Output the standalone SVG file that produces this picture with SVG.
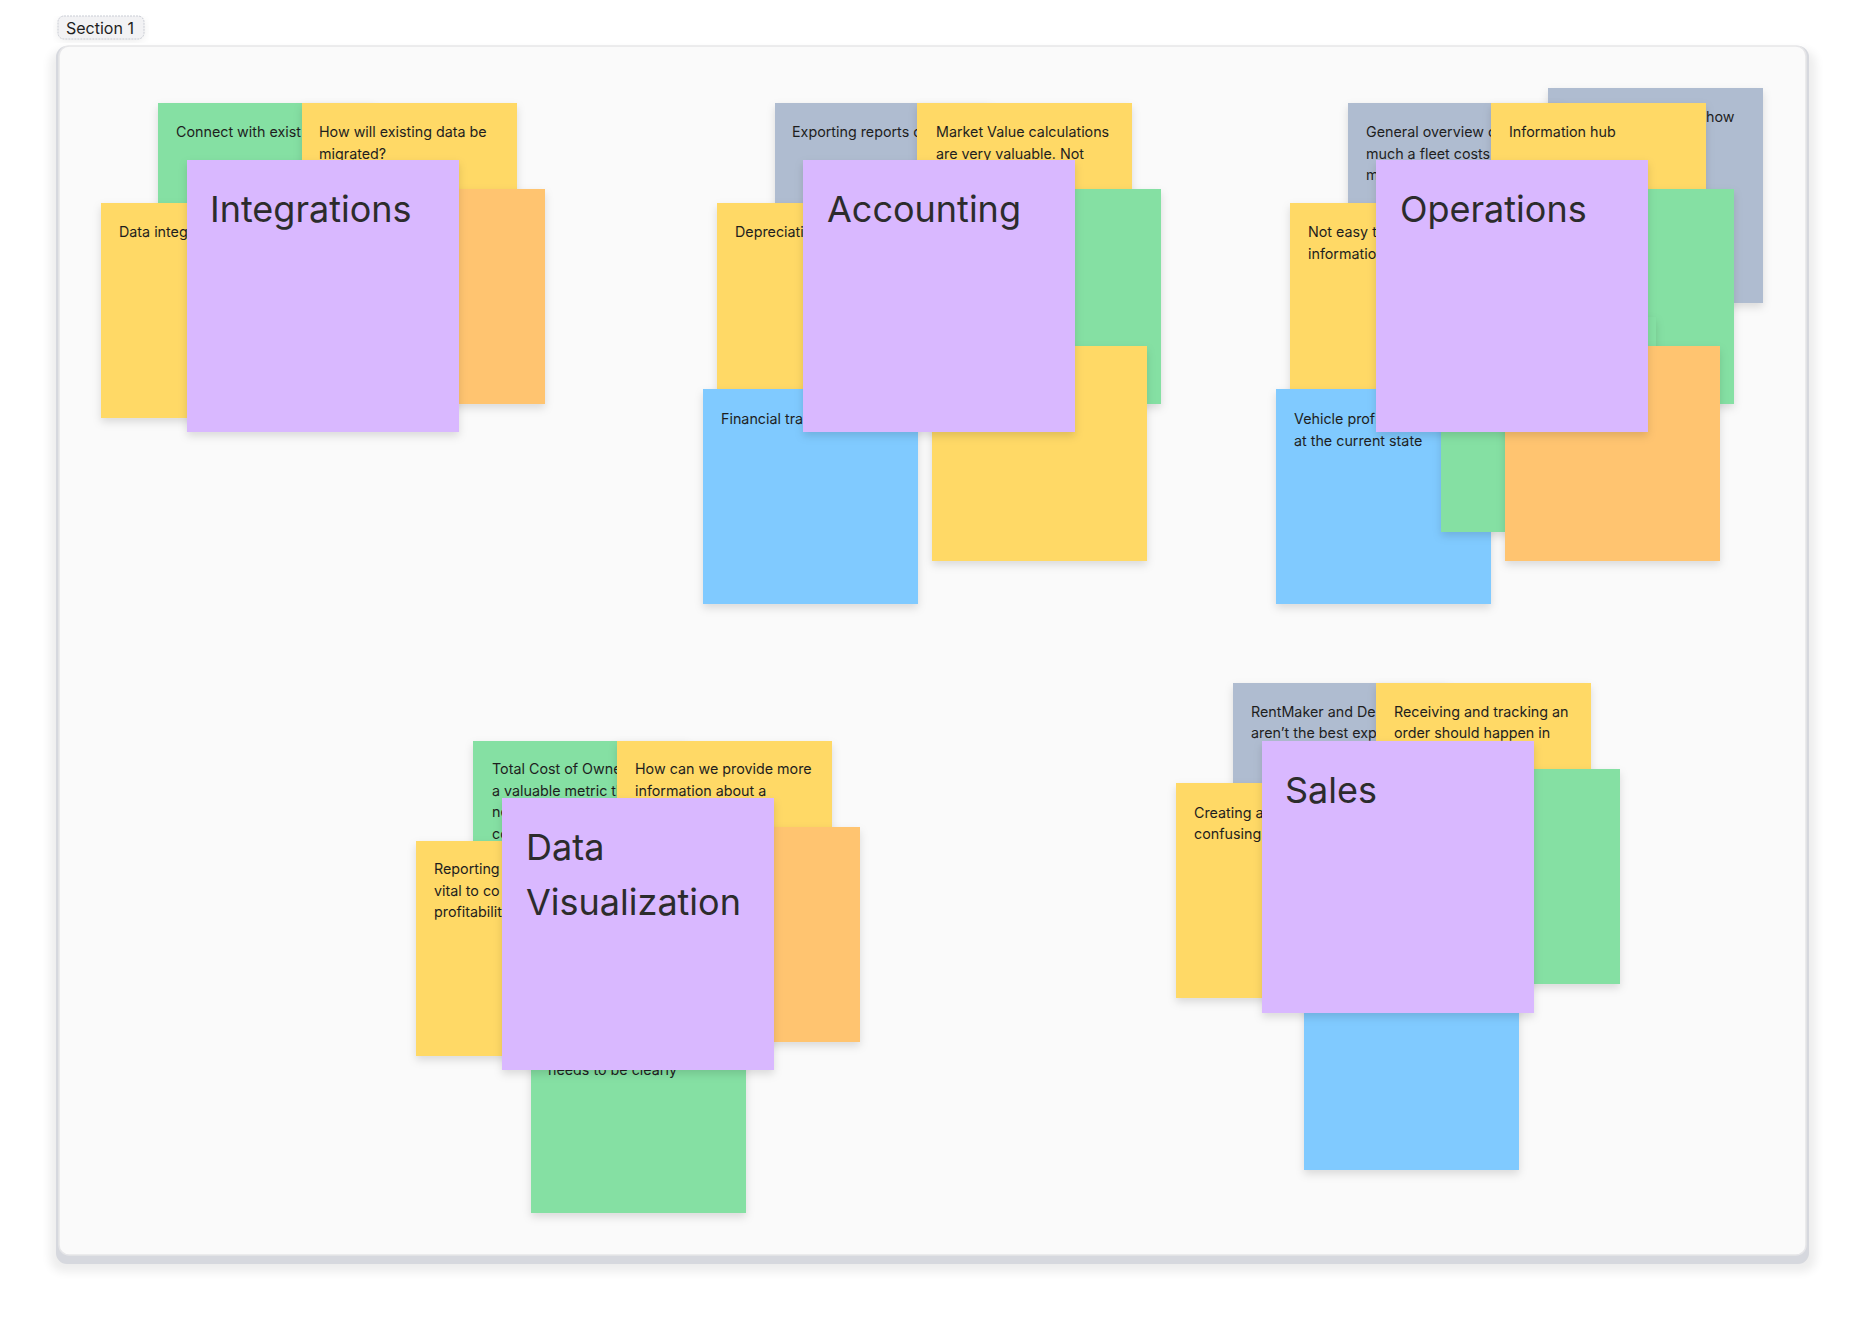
<svg xmlns="http://www.w3.org/2000/svg" width="1856" height="1318" viewBox="0 0 1856 1318">
<defs>
<filter id="sh" x="-10%" y="-10%" width="120%" height="125%">
<feDropShadow dx="0" dy="4" stdDeviation="4" flood-color="#000" flood-opacity="0.13"/>
</filter>
<filter id="fsh" x="-5%" y="-5%" width="110%" height="110%">
<feGaussianBlur stdDeviation="5"/>
</filter>
<style>
.g{fill:#85e0a3}.y{fill:#ffd966}.o{fill:#ffc470}.p{fill:#d9b8ff}.s{fill:#afbcd0}.b{fill:#80caff}
.n{filter:url(#sh)}
.t{font-family:Inter,"Noto Sans","Liberation Sans",sans-serif;font-size:14.3px;fill:#1e1e1e}
.h{font-family:Inter,"Noto Sans","Liberation Sans",sans-serif;font-size:36px;fill:#2c2c2c}
</style>
</defs>
<rect width="1856" height="1318" fill="#ffffff"/>
<g id="section">
<rect x="50" y="50" width="1766" height="1222" rx="14" fill="#000" opacity="0.07" filter="url(#fsh)"/>
<rect x="56" y="46" width="1753" height="1218" rx="11" fill="#d6d8de"/>
<rect x="59" y="46" width="1747" height="1209" rx="10" fill="#fafafa" stroke="#e6e6e8" stroke-width="1.5"/>
<rect x="58" y="18" width="86" height="23" rx="7" fill="#000" opacity="0.08" filter="url(#fsh)"/>
<rect x="58" y="16" width="86" height="23" rx="6" fill="#f2f2f4" stroke="#c9ccd4" stroke-width="1" stroke-dasharray="2 1"/>
<text x="66" y="34" style="font-family:Inter,'Noto Sans','Liberation Sans',sans-serif;font-size:16px;fill:#1e1e1e">Section 1</text>
</g>

<g id="integrations">
<g id="int-green"><rect class="g n" x="158" y="103" width="215" height="215"/><text class="t" x="176" y="137">Connect with exist</text></g>
<g id="int-yellow-top"><rect class="y n" x="302" y="103" width="215" height="215"/><text class="t" x="319" y="137">How will existing data be</text><text class="t" x="319" y="159">migrated?</text></g>
<g id="int-yellow-left"><rect class="y n" x="101" y="203" width="215" height="215"/><text class="t" x="119" y="237">Data integ</text></g>
<g id="int-orange"><rect class="o n" x="330" y="189" width="215" height="215"/></g>
<g id="int-title"><rect class="p n" x="187" y="160" width="272" height="272"/><text class="h" x="210" y="222">Integrations</text></g>
</g>

<g id="accounting">
<g id="acc-gray"><rect class="s n" x="775" y="103" width="215" height="215"/><text class="t" x="792" y="137">Exporting reports c</text></g>
<g id="acc-yellow-top"><rect class="y n" x="917" y="103" width="215" height="215"/><text class="t" x="936" y="137">Market Value calculations</text><text class="t" x="936" y="159">are very valuable. Not</text></g>
<g id="acc-yellow-left"><rect class="y n" x="717" y="203" width="215" height="215"/><text class="t" x="735" y="237">Depreciati</text></g>
<g id="acc-green"><rect class="g n" x="946" y="189" width="215" height="215"/></g>
<g id="acc-blue"><rect class="b n" x="703" y="389" width="215" height="215"/><text class="t" x="721" y="424">Financial tra</text></g>
<g id="acc-yellow-br"><rect class="y n" x="932" y="346" width="215" height="215"/></g>
<g id="acc-title"><rect class="p n" x="803" y="160" width="272" height="272"/><text class="h" x="827" y="222">Accounting</text></g>
</g>

<g id="operations">
<g id="ops-gray-back"><rect class="s n" x="1548" y="88" width="215" height="215"/><text class="t" x="1706" y="122">how</text></g>
<g id="ops-gray"><rect class="s n" x="1348" y="103" width="215" height="215"/><text class="t" x="1366" y="137">General overview c</text><text class="t" x="1366" y="159">much a fleet costs</text><text class="t" x="1366" y="180">m</text></g>
<g id="ops-yellow-top"><rect class="y n" x="1491" y="103" width="215" height="215"/><text class="t" x="1509" y="137">Information hub</text></g>
<g id="ops-green"><rect class="g n" x="1519" y="189" width="215" height="215"/></g>
<g id="ops-yellow-left"><rect class="y n" x="1290" y="203" width="215" height="215"/><text class="t" x="1308" y="237">Not easy t</text><text class="t" x="1308" y="259">informatio</text></g>
<g id="ops-blue"><rect class="b n" x="1276" y="389" width="215" height="215"/><text class="t" x="1294" y="424">Vehicle profi</text><text class="t" x="1294" y="446">at the current state</text></g>
<g id="ops-green-small"><rect class="g n" x="1441" y="317" width="215" height="215"/></g>
<g id="ops-orange"><rect class="o n" x="1505" y="346" width="215" height="215"/></g>
<g id="ops-title"><rect class="p n" x="1376" y="160" width="272" height="272"/><text class="h" x="1400" y="222">Operations</text></g>
</g>

<g id="data-visualization">
<g id="dv-green"><rect class="g n" x="473" y="741" width="215" height="215"/><text class="t" x="492" y="774">Total Cost of Owne</text><text class="t" x="492" y="796">a valuable metric th</text><text class="t" x="492" y="817">ne</text><text class="t" x="492" y="839">co</text></g>
<g id="dv-yellow-top"><rect class="y n" x="617" y="741" width="215" height="215"/><text class="t" x="635" y="774">How can we provide more</text><text class="t" x="635" y="796">information about a</text></g>
<g id="dv-yellow-left"><rect class="y n" x="416" y="841" width="215" height="215"/><text class="t" x="434" y="874">Reporting</text><text class="t" x="434" y="896">vital to co</text><text class="t" x="434" y="917">profitabilit</text></g>
<g id="dv-orange"><rect class="o n" x="645" y="827" width="215" height="215"/></g>
<g id="dv-green-bottom"><rect class="g n" x="531" y="998" width="215" height="215"/><text class="t" x="548" y="1075">needs to be clearly</text></g>
<g id="dv-title"><rect class="p n" x="502" y="798" width="272" height="272"/><text class="h" x="526" y="860">Data</text><text class="h" x="526" y="915">Visualization</text></g>
</g>

<g id="sales">
<g id="sal-gray"><rect class="s n" x="1233" y="683" width="215" height="215"/><text class="t" x="1251" y="717">RentMaker and De</text><text class="t" x="1251" y="738">aren’t the best exp</text></g>
<g id="sal-yellow-top"><rect class="y n" x="1376" y="683" width="215" height="215"/><text class="t" x="1394" y="717">Receiving and tracking an</text><text class="t" x="1394" y="738">order should happen in</text></g>
<g id="sal-yellow-left"><rect class="y n" x="1176" y="783" width="215" height="215"/><text class="t" x="1194" y="818">Creating a</text><text class="t" x="1194" y="839">confusing</text></g>
<g id="sal-green"><rect class="g n" x="1405" y="769" width="215" height="215"/></g>
<g id="sal-blue"><rect class="b n" x="1304" y="955" width="215" height="215"/></g>
<g id="sal-title"><rect class="p n" x="1262" y="741" width="272" height="272"/><text class="h" x="1285" y="803">Sales</text></g>
</g>
</svg>
